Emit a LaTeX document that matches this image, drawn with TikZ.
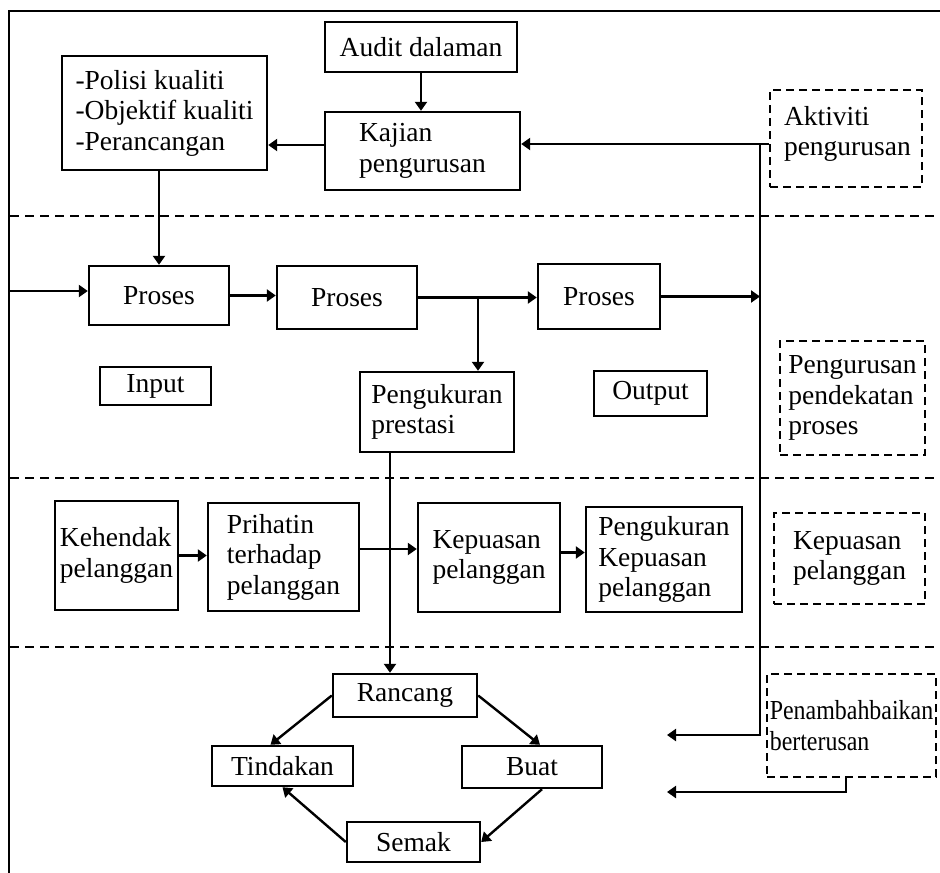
\documentclass[tikz,border=0pt]{standalone}
\usepackage{fontspec}
\setmainfont{Liberation Serif}
\usetikzlibrary{arrows.meta,calc}
\newcommand{\nar}[1]{\scalebox{0.87}[1]{#1}}
\tikzset{
box/.style={draw, line width=2.4pt, align=left, inner sep=0pt, font=\fontsize{27.5}{30.5}\selectfont},
dbox/.style={box, dash pattern=on 8pt off 5pt},
lbl/.style={anchor=north west, align=left, inner sep=0pt, font=\fontsize{27.5}{30.5}\selectfont},
arr/.style={line width=2.4pt, -{Triangle[length=9pt,width=12pt]}},
ln/.style={line width=2.4pt},
sep/.style={line width=2.4pt, dash pattern=on 9pt off 6pt}
}

\begin{document}
\begin{tikzpicture}[x=1pt,y=-1pt]
\useasboundingbox (0,0) rectangle (940,873);
\draw[ln] (9,873) -- (9,11) -- (940,11);
\foreach \y in {216,478,647} \draw[sep] (10,\y) -- (940,\y);

\node[box, minimum width=192, minimum height=50] (aud) at (421,47) {Audit dalaman};
\node[box, minimum width=205, minimum height=114] (pol) at (164.5,113) {-Polisi kualiti\\-Objektif kualiti\\-Perancangan};
\node[box, minimum width=195, minimum height=78] (kaj) at (422.5,151) {Kajian\\pengurusan};
\node[dbox, minimum width=152, minimum height=97, label={[lbl, xshift=15pt, yshift=-17pt]north west:Aktiviti\\pengurusan}] (akt) at (846,138.5) {};

\node[box, minimum width=140, minimum height=59] (pr1) at (159,295.5) {Proses};
\node[box, minimum width=140, minimum height=63] (pr2) at (347,297.5) {Proses};
\node[box, minimum width=122, minimum height=65] (pr3) at (599,296.5) {Proses};
\node[box, minimum width=111, minimum height=38] (inp) at (155.5,386) {Input};
\node[box, minimum width=154, minimum height=80] (pen) at (437,412) {Pengukuran\\prestasi};
\node[box, minimum width=113, minimum height=45] (out) at (650.5,393.5) {Output};
\node[dbox, minimum width=145, minimum height=114] (ppp) at (852.5,398) {Pengurusan\\pendekatan\\proses};

\node[box, minimum width=123, minimum height=109] (keh) at (116.5,555.5) {Kehendak\\pelanggan};
\node[box, minimum width=151, minimum height=108] (pri) at (283.5,557) {Prihatin\\terhadap\\pelanggan};
\node[box, minimum width=142, minimum height=109] (kep) at (489,557.5) {Kepuasan\\pelanggan};
\node[box, minimum width=156, minimum height=105] (pkp) at (664,559.5) {Pengukuran\\Kepuasan\\pelanggan};
\node[dbox, minimum width=151, minimum height=91] (kpd) at (849.5,558.5) {Kepuasan\\pelanggan};

\node[box, minimum width=144, minimum height=43] (ran) at (405,695.5) {Rancang};
\node[box, minimum width=141, minimum height=40] (tin) at (282.5,766) {Tindakan};
\node[box, minimum width=140, minimum height=42] (buat) at (532,767) {Buat};
\node[box, minimum width=133, minimum height=40] (sem) at (413.5,842) {Semak};
\node[dbox, minimum width=169, minimum height=103] (pnb) at (851.5,725.5) {\nar{Penambahbaikan}\\\nar{berterusan}};

\coordinate (in) at (10,291);
\coordinate (br) at (478,297.5);
\coordinate (sp) at (760,144);
\coordinate (sb) at (760,735);
\coordinate (ret1) at (667,735);
\coordinate (fb) at (846,792);
\coordinate (ret2) at (667,792);

\draw[arr] (aud.south) -- (aud.south |- kaj.north);
\draw[arr] ([yshift=6pt]kaj.west) -- ([yshift=6pt]kaj.west -| pol.east);
\draw[arr] (pol.south -| pr1.north) -- (pr1.north);
\draw[arr] (in) -- (in -| pr1.west);
\draw[arr] (pr1.east) -- (pr1.east -| pr2.west);
\draw[arr] (pr2.east) -- (pr2.east -| pr3.west);
\draw[arr] (br) -- (br |- pen.north);
\draw[arr] (pr3.east) -- (pr3.east -| sp);
\draw[arr] (sp -| akt.west) -- (sp -| kaj.east);
\draw[arr] (sp) -- (sb) -- (ret1);
\draw[arr] (fb |- pnb.south) -- (fb) -- (ret2);
\draw[arr] ([xshift=-47pt]pen.south) -- ([xshift=-47pt]pen.south |- ran.north);
\draw[arr] (keh.east) -- (keh.east -| pri.west);
\draw[arr] ([yshift=8pt]pri.east) -- ([yshift=8pt]pri.east -| kep.west);
\draw[arr] ([yshift=5pt]kep.east) -- ([yshift=5pt]kep.east -| pkp.west);
\draw[arr] (ran.west) -- ([xshift=-12pt]tin.north);
\draw[arr] (ran.east) -- ([xshift=8pt]buat.north);
\draw[arr] ([xshift=10pt]buat.south) -- (sem.east);
\draw[arr] (sem.west) -- (tin.south);
\end{tikzpicture}
\end{document}
